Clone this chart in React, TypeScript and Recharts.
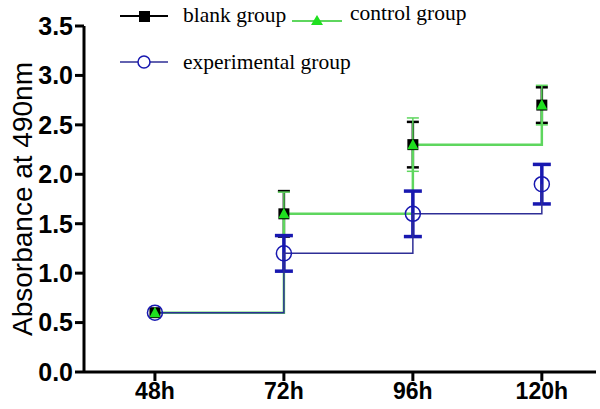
import { CartesianGrid, ErrorBar, Label, Line, LineChart, XAxis, YAxis } from 'recharts';

// absorbance readings per time point
const categories = ['48h', '72h', '96h', '120h'];
const blank = [0.6, 1.6, 2.3, 2.7];
const blankErr = [0, 0.23, 0.23, 0.18];
const control = [0.6, 1.6, 2.3, 2.7];
const controlErr = [0, 0.22, 0.27, 0.2];
const experimental = [0.6, 1.2, 1.6, 1.9];
const experimentalErr = [0, 0.18, 0.23, 0.2];
const yTicks = [0, 0.5, 1, 1.5, 2, 2.5, 3, 3.5];

const COLORS = {
  blank: '#000000',
  controlLine: '#5ed65e',
  controlMark: '#1fe01f',
  expLine: '#2e2e96',
  expErr: '#1818b0',
};

const data = categories.map((c, i) => ({
  x: i,
  label: c,
  blank: blank[i],
  blankErr: blankErr[i],
  control: control[i],
  controlErr: controlErr[i],
  experimental: experimental[i],
  experimentalErr: experimentalErr[i],
}));

const SANS = '"Liberation Sans", Arial, sans-serif';
const SERIF = '"Liberation Serif", "Times New Roman", serif';

function Square(props: any) {
  const { cx, cy, index } = props;
  return <rect key={`sq-${index}`} x={cx - 5.5} y={cy - 5.5} width={11} height={11} fill="#000" />;
}

function Triangle(props: any) {
  const { cx, cy, index } = props;
  return (
    <path
      key={`tr-${index}`}
      d={`M${cx},${cy - 6} L${cx + 5.5},${cy + 4.5} L${cx - 5.5},${cy + 4.5} Z`}
      fill={COLORS.controlMark}
    />
  );
}

function Legend() {
  return (
    <svg width={600} height={90} style={{ position: 'absolute', left: 0, top: 0 }}>
      <line x1={120} x2={168} y1={16} y2={16} stroke="#000" strokeWidth={2} />
      <rect x={139} y={11} width={11} height={11} fill="#000" />
      <text x={183} y={22} fontFamily={SERIF} fontSize={21.5} fill="#000">blank group</text>
      <line x1={292} x2={342} y1={21} y2={21} stroke={COLORS.controlLine} strokeWidth={2} />
      <path d="M317,15 L323,25 L311,25 Z" fill={COLORS.controlMark} />
      <text x={350} y={20} fontFamily={SERIF} fontSize={21.5} fill="#000">control group</text>
      <line x1={120} x2={168} y1={62} y2={62} stroke={COLORS.expLine} strokeWidth={1.5} />
      <circle cx={144} cy={62} r={6} fill="#fff" stroke={COLORS.expErr} strokeWidth={1.5} />
      <text x={183} y={69} fontFamily={SERIF} fontSize={21.5} fill="#000">experimental group</text>
    </svg>
  );
}

export default function App() {
  return (
    <div style={{ position: 'absolute', left: 0, top: 0, width: 600, height: 409, background: '#fff' }}>
      <LineChart width={600} height={409} data={data} margin={{ top: 26, right: 4, left: 0, bottom: 0 }}>
        <CartesianGrid stroke="none" />
        <XAxis
          type="number"
          dataKey="x"
          domain={[-0.55, 3.42]}
          ticks={[0, 1, 2, 3]}
          tickFormatter={(v: number) => categories[v]}
          height={37}
          tickSize={9}
          tickMargin={2}
          axisLine={{ stroke: '#000', strokeWidth: 3 }}
          tickLine={{ stroke: '#000', strokeWidth: 3 }}
          tick={{ fill: '#000', fontSize: 23, fontWeight: 'bold', fontFamily: SANS }}
        />
        <YAxis
          type="number"
          domain={[0, 3.5]}
          ticks={yTicks}
          tickFormatter={(v: number) => v.toFixed(1)}
          width={84}
          tickSize={9}
          tickMargin={2}
          axisLine={{ stroke: '#000', strokeWidth: 3 }}
          tickLine={{ stroke: '#000', strokeWidth: 3 }}
          tick={{ fill: '#000', fontSize: 25, fontWeight: 'bold', fontFamily: SANS }}
        >
          <Label
            content={() => (
              <text
                transform="translate(32,199) rotate(-90)"
                textAnchor="middle"
                fontFamily={SANS}
                fontSize={28}
                fill="#000"
              >
                Absorbance at 490nm
              </text>
            )}
          />
        </YAxis>
        <Line
          type="stepAfter"
          dataKey="blank"
          stroke={COLORS.blank}
          strokeWidth={1.5}
          dot={Square}
          activeDot={false}
          isAnimationActive={false}
        >
          <ErrorBar dataKey="blankErr" direction="y" width={6} stroke="#000" strokeWidth={2.5} />
        </Line>
        <Line
          type="stepAfter"
          dataKey="control"
          stroke={COLORS.controlLine}
          strokeWidth={2.5}
          dot={Triangle}
          activeDot={false}
          isAnimationActive={false}
        >
          <ErrorBar dataKey="controlErr" direction="y" width={6} stroke={COLORS.controlLine} strokeWidth={1.5} />
        </Line>
        <Line
          type="stepAfter"
          dataKey="experimental"
          stroke={COLORS.expLine}
          strokeWidth={1.5}
          dot={{ r: 7.5, fill: 'none', stroke: COLORS.expErr, strokeWidth: 1.5 }}
          activeDot={false}
          isAnimationActive={false}
        >
          <ErrorBar dataKey="experimentalErr" direction="y" width={9} stroke={COLORS.expErr} strokeWidth={3.5} />
        </Line>
      </LineChart>
      <Legend />
    </div>
  );
}
